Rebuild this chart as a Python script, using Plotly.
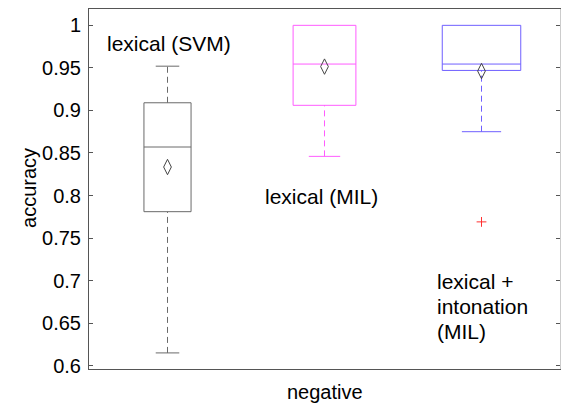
import plotly.graph_objects as go

# Accuracy summary statistics per method (negative class)
methods = ["lexical (SVM)", "lexical (MIL)", "lexical + intonation (MIL)"]
lower_whisker = [0.615, 0.846, 0.875]
q1 = [0.781, 0.906, 0.947]
median = [0.857, 0.9545, 0.9545]
q3 = [0.909, 1.0, 1.0]
upper_whisker = [0.952, 1.0, 1.0]
mean = [0.8335, 0.9515, 0.9463]
outliers = [[], [], [0.769]]

y_ticks = [0.6, 0.65, 0.7, 0.75, 0.8, 0.85, 0.9, 0.95, 1.0]
y_tick_text = ["0.6", "0.65", "0.7", "0.75", "0.8", "0.85", "0.9", "0.95", "1"]

# Styling
colors = ["#6a6a6a", "#ff5cff", "#6f5fff"]
half_widths = [0.15, 0.2, 0.25]
FONT = "Liberation Sans, Arial, Helvetica, sans-serif"
AXIS = "#555555"

fig = go.Figure()

for i, name in enumerate(methods):
    pos = i + 1
    hw = half_widths[i]
    c = colors[i]
    # box outline
    fig.add_trace(go.Scatter(
        x=[pos - hw, pos + hw, pos + hw, pos - hw, pos - hw],
        y=[q1[i], q1[i], q3[i], q3[i], q1[i]],
        mode="lines", line=dict(color=c, width=1), hoverinfo="skip", showlegend=False))
    # median
    fig.add_trace(go.Scatter(
        x=[pos - hw, pos + hw], y=[median[i], median[i]],
        mode="lines", line=dict(color=c, width=1), hoverinfo="skip", showlegend=False))
    # whiskers (dashed) and caps
    for lo, hi, cap in ((lower_whisker[i], q1[i], lower_whisker[i]),
                        (q3[i], upper_whisker[i], upper_whisker[i])):
        if hi - lo > 1e-9:
            fig.add_trace(go.Scatter(
                x=[pos, pos], y=[lo, hi], mode="lines",
                line=dict(color=c, width=1, dash="6px,4px"),
                hoverinfo="skip", showlegend=False))
            fig.add_trace(go.Scatter(
                x=[pos - hw / 2, pos + hw / 2], y=[cap, cap], mode="lines",
                line=dict(color=c, width=1), hoverinfo="skip", showlegend=False))
    # mean marker
    fig.add_trace(go.Scatter(
        x=[pos], y=[mean[i]], mode="markers",
        marker=dict(symbol="diamond-tall-open", size=11, color="#444444",
                    line=dict(width=1, color="#444444")),
        hoverinfo="skip", showlegend=False))
    # outliers
    if outliers[i]:
        fig.add_trace(go.Scatter(
            x=[pos] * len(outliers[i]), y=outliers[i], mode="markers",
            marker=dict(symbol="cross-thin-open", size=7, color="#ff3030",
                        line=dict(width=1, color="#ff3030")),
            hoverinfo="skip", showlegend=False))

# invisible trace so the right-hand frame axis is drawn
fig.add_trace(go.Scatter(x=[1], y=[0.8], yaxis="y2", mode="markers",
                         marker=dict(opacity=0), hoverinfo="skip", showlegend=False))

label_font = dict(family=FONT, size=21, color="black")
annotations = [
    dict(x=0.602, y=0.979, text=methods[0], xanchor="left", yanchor="middle"),
    dict(x=1.606, y=0.7987, text=methods[1], xanchor="left", yanchor="middle"),
    dict(x=2.704, y=0.6992, text="lexical +", xanchor="left", yanchor="middle"),
    dict(x=2.704, y=0.6696, text="intonation", xanchor="left", yanchor="middle"),
    dict(x=2.704, y=0.6400, text="(MIL)", xanchor="left", yanchor="middle"),
]
for a in annotations:
    a.update(xref="x", yref="y", showarrow=False, font=label_font)

annotations.append(dict(x=0.5, y=-0.063, xref="paper", yref="paper", text="negative",
                        showarrow=False, xanchor="center", yanchor="middle",
                        font=dict(family=FONT, size=20, color="black")))
annotations.append(dict(x=-0.1274, y=0.503, xref="paper", yref="paper", text="accuracy",
                        textangle=-90, showarrow=False, xanchor="center", yanchor="middle",
                        font=dict(family=FONT, size=20, color="black")))

fig.update_layout(
    width=561, height=407,
    margin=dict(l=89, r=1, t=9, b=38),
    paper_bgcolor="white", plot_bgcolor="white",
    font=dict(family=FONT, size=20, color="black"),
    annotations=annotations,
    xaxis=dict(range=[0.5, 3.5], showgrid=False, zeroline=False,
               showticklabels=False, ticks="",
               showline=True, linecolor=AXIS, linewidth=1, mirror=True),
    yaxis=dict(range=[0.5961, 1.0192], showgrid=False, zeroline=False,
               tickvals=y_ticks, ticktext=y_tick_text, ticks="inside",
               ticklen=4, tickcolor=AXIS, tickfont=dict(family=FONT, size=20, color="black"),
               ticklabelstandoff=3,
               showline=True, linecolor=AXIS, linewidth=1),
    yaxis2=dict(range=[0.5961, 1.0192], overlaying="y", side="right",
                showgrid=False, zeroline=False, tickvals=y_ticks, showticklabels=False,
                ticks="inside", ticklen=4, tickcolor=AXIS,
                showline=True, linecolor="#cccccc", linewidth=1),
)

fig.write_html("out.html")
